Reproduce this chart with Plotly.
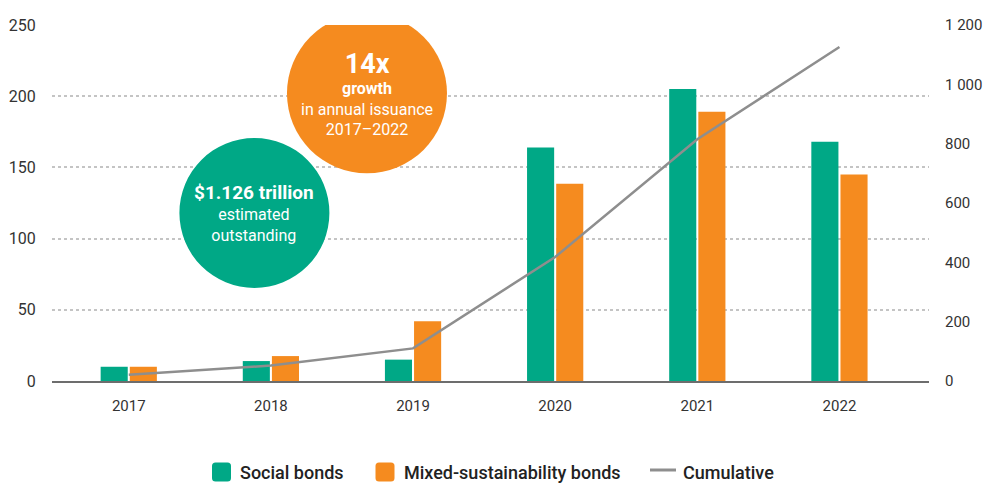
import plotly.graph_objects as go

years = ["2017", "2018", "2019", "2020", "2021", "2022"]
social = [10, 14, 15, 164, 205, 168]
mixed = [10, 17.5, 42, 138.5, 189, 145]
cumulative = [21, 52, 110, 418, 815, 1126]

GREEN = "#00A886"
ORANGE = "#F58B1F"
GRAY = "#8E8E8E"
FONT = "Roboto"

# plot-area geometry in pixels (used only to place the hand-drawn legend)
L, R, T, B = 52, 55, 25, 103
W, H = 984, 484
PW, PH = W - L - R, H - T - B


def px_x(px):
    return (px - L) / PW


def px_y(py):
    return (H - B - py) / PH


fig = go.Figure()
fig.add_trace(go.Bar(x=years, y=social, name="Social bonds", marker=dict(color=GREEN, line=dict(width=0)),
                     offsetgroup="a", showlegend=False))
fig.add_trace(go.Bar(x=years, y=mixed, name="Mixed-sustainability bonds", marker=dict(color=ORANGE, line=dict(width=0)),
                     offsetgroup="b", showlegend=False))
fig.add_trace(go.Scatter(x=years, y=cumulative, name="Cumulative", mode="lines",
                         line=dict(color=GRAY, width=2.5), yaxis="y2", showlegend=False))

# Callout circles (pixel-sized, anchored in data coordinates)
circles = [
    dict(cx=0.884, cy=118, r=75, color=GREEN),
    dict(cx=1.676, cy=202, r=80, color=ORANGE),
]
for c in circles:
    fig.add_shape(type="circle", xref="x", yref="y", xsizemode="pixel", ysizemode="pixel",
                  xanchor=c["cx"], yanchor=c["cy"], x0=-c["r"], x1=c["r"], y0=-c["r"], y1=c["r"],
                  fillcolor=c["color"], line=dict(width=0), layer="above")

fig.add_annotation(x=0.884, y=118, xref="x", yref="y", showarrow=False, align="center",
                   text="<b><span style='font-size:19px'>$1.126 trillion</span></b><br>estimated<br>outstanding",
                   font=dict(family=FONT, size=16, color="white"))
fig.add_annotation(x=1.676, y=202, xref="x", yref="y", showarrow=False, align="center",
                   text="<b><span style='font-size:27px'>14x</span></b><br><b>growth</b><br>in annual issuance<br>2017–2022",
                   font=dict(family=FONT, size=16, color="white"))


# Hand-drawn legend (bigger rounded swatches, like the reference)
def rounded_square(s, r):
    h = s / 2
    return (f"M {-h + r},{-h} L {h - r},{-h} Q {h},{-h} {h},{-h + r} L {h},{h - r} Q {h},{h} {h - r},{h} "
            f"L {-h + r},{h} Q {-h},{h} {-h},{h - r} L {-h},{-h + r} Q {-h},{-h} {-h + r},{-h} Z")


LEG_Y = 472
legend_items = [
    dict(kind="box", color=GREEN, sw_x=221.5, text_x=238, label="Social bonds"),
    dict(kind="box", color=ORANGE, sw_x=385, text_x=402, label="Mixed-sustainability bonds"),
    dict(kind="line", color=GRAY, sw_x=663, text_x=681, label="Cumulative"),
]
for it in legend_items:
    if it["kind"] == "box":
        fig.add_shape(type="path", xref="paper", yref="paper", xsizemode="pixel", ysizemode="pixel",
                      xanchor=px_x(it["sw_x"]), yanchor=px_y(LEG_Y), path=rounded_square(19, 3.5),
                      fillcolor=it["color"], line=dict(width=0))
    else:
        fig.add_shape(type="line", xref="paper", yref="paper", xsizemode="pixel", ysizemode="pixel",
                      xanchor=px_x(it["sw_x"]), yanchor=px_y(LEG_Y - 2), x0=-13, x1=13, y0=0, y1=0,
                      line=dict(color=it["color"], width=3))
    fig.add_annotation(x=px_x(it["text_x"]), y=px_y(LEG_Y), xref="paper", yref="paper", showarrow=False,
                       xanchor="left", yanchor="middle", text=it["label"],
                       font=dict(family=FONT, size=18, color="#222222", weight=500))

fig.update_layout(
    width=W, height=H,
    margin=dict(l=L, r=R, t=T, b=B, autoexpand=False),
    paper_bgcolor="white", plot_bgcolor="white",
    barmode="group", bargap=0.59, bargroupgap=0.07,
    separators=". ",
    font=dict(family=FONT, size=15, color="#333333"),
    showlegend=False,
    xaxis=dict(type="category", range=[-0.54, 5.63], showline=True, linecolor="#6d6d6d", linewidth=2,
               showgrid=False, ticks="outside", ticklen=10, tickcolor="rgba(0,0,0,0)", automargin=False,
               tickfont=dict(family=FONT, size=15, color="#333333")),
    yaxis=dict(range=[0, 250], tickvals=[0, 50, 100, 150, 200, 250], showgrid=True, automargin=False,
               gridcolor="#c4c4c4", griddash="dot", gridwidth=1.5, zeroline=False,
               ticks="outside", ticklen=12, tickcolor="rgba(0,0,0,0)",
               tickfont=dict(family=FONT, size=16, color="#333333")),
    yaxis2=dict(range=[0, 1200], tickvals=[0, 200, 400, 600, 800, 1000, 1200], overlaying="y", side="right",
                showgrid=False, zeroline=False, separatethousands=True, automargin=False,
                ticks="outside", ticklen=12, tickcolor="rgba(0,0,0,0)",
                tickfont=dict(family=FONT, size=15, color="#333333")),
)

fig.write_html("out.html", config={"displayModeBar": False},
               post_script="document.body.style.margin='0';document.body.style.overflow='hidden';")
